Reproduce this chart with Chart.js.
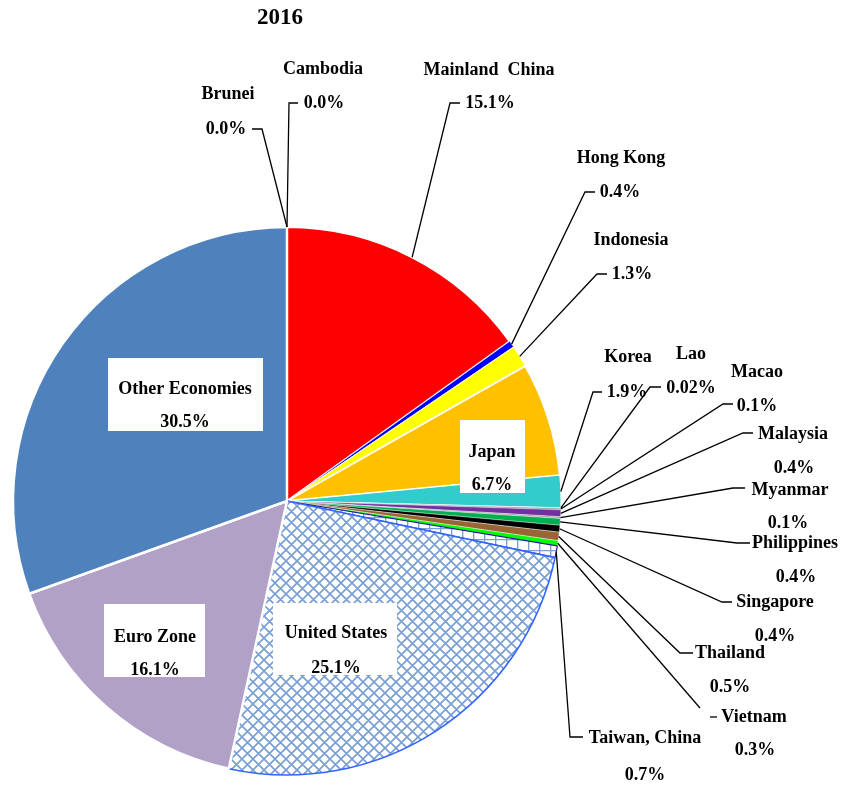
<!DOCTYPE html>
<html><head><meta charset="utf-8">
<script src="https://cdn.jsdelivr.net/npm/chart.js@4/dist/chart.umd.min.js"></script>
<style>html,body{margin:0;padding:0;background:#fff;}canvas{display:block}</style>
</head><body>
<canvas id="c" width="842" height="785"></canvas>
<script>
// ---- data ----
const chartTitle = '2016';
const categories = ['Mainland China','Hong Kong','Indonesia','Japan','Korea','Lao','Macao','Malaysia','Myanmar','Philippines','Singapore','Thailand','Vietnam','Taiwan, China','United States','Euro Zone','Other Economies','Brunei','Cambodia'];
const shares = [15.1,0.4,1.3,6.7,1.9,0.02,0.1,0.4,0.1,0.4,0.4,0.5,0.3,0.7,25.1,16.1,30.5,0.0,0.0];

// ---- styles ----
const sliceColors = ['#FF0000','#0000FF','#FFFF00','#FFC000','#33CCCC','#BFBFBF','#8FA0A0','#7030A0','#A0A0A0','#00B050','#000000','#996633','#00FF00','PATTERN_GRID','PATTERN_DIAMOND','#B2A1C7','#4F81BD','#F2DCDB','#FFFFFF'];
const sliceBorders = ['#FFFFFF','#FFFFFF','#FFFFFF','#FFFFFF','#FFFFFF','#FFFFFF','#FFFFFF','#FFFFFF','#FFFFFF','#FFFFFF','#FFFFFF','#FFFFFF','#FFFFFF','#1A1A8C','#3366FF','#FFFFFF','#FFFFFF','#FFFFFF','#FFFFFF'];
const sliceBorderWidths = [2,0.6,1,2,1,0.3,0.3,0.4,0.3,0.4,0.4,0.4,0.4,1.2,1.6,2.5,2.5,1,1];

// label layout (annotation positions, not data)
const outsideLabels = {
  'Brunei':        {name:[228,94],  value:[226,129], elbow:[262,129], end:252},
  'Cambodia':      {name:[323,69],  value:[324,103], elbow:[289,103], end:298},
  'Mainland China':{name:[489,70],  value:[490,103], elbow:[450,103], end:460, text:'Mainland  China'},
  'Hong Kong':     {name:[621,158], value:[620,192], elbow:[585,192], end:595},
  'Indonesia':     {name:[631,240], value:[632,274], elbow:[597,274], end:607},
  'Korea':         {name:[628,357], value:[627,392], elbow:[593,392], end:602},
  'Lao':           {name:[691,354], value:[691,388], elbow:[650,387], end:661},
  'Macao':         {name:[757,372], value:[757,406], elbow:[723,404], end:733},
  'Malaysia':      {name:[793,434], value:[794,468], elbow:[743,433], end:753},
  'Myanmar':       {name:[790,490], value:[788,523], elbow:[733,488], end:745},
  'Philippines':   {name:[795,543], value:[796,577], elbow:[737,543], end:750},
  'Singapore':     {name:[775,602], value:[775,636], elbow:[722,602], end:732},
  'Thailand':      {name:[730,653], value:[730,687], elbow:[680,653], end:693},
  'Vietnam':       {name:[754,717], value:[755,750], elbow:[700,708], end:700, dash:[710,717,717]},
  'Taiwan, China': {name:[645,738], value:[645,775], elbow:[570,737], end:583}
};
const insideLabels = {
  'Japan':           {box:[460,420,525,493], name:[492,452], value:[492,485]},
  'United States':   {box:[273,603,397,675], name:[336,633], value:[336,668]},
  'Euro Zone':       {box:[104,604,205,677], name:[155,637], value:[155,670]},
  'Other Economies': {box:[108,358,263,431], name:[185,389], value:[185,422]}
};

function fmt(v){ return (v > 0 && v < 0.1) ? v.toFixed(2) + '%' : v.toFixed(1) + '%'; }

function makePattern(kind){
  const p = 11;
  const c = document.createElement('canvas');
  c.width = p; c.height = p;
  const g = c.getContext('2d');
  g.fillStyle = '#FFFFFF'; g.fillRect(0,0,p,p);
  g.strokeStyle = '#7A9FD4'; g.lineWidth = 1.7;
  g.beginPath();
  if (kind === 'diamond') {
    for (let k = -1; k <= 1; k++) {
      g.moveTo(k*p, 0); g.lineTo(k*p + p, p);
      g.moveTo(k*p + p, 0); g.lineTo(k*p, p);
    }
  } else {
    g.moveTo(0, 0.5); g.lineTo(p, 0.5);
    g.moveTo(0.5, 0); g.lineTo(0.5, p);
  }
  g.stroke();
  return document.getElementById('c').getContext('2d').createPattern(c, 'repeat');
}
const fills = sliceColors.map(c => c === 'PATTERN_GRID' ? makePattern('grid') : c === 'PATTERN_DIAMOND' ? makePattern('diamond') : c);

const FONT = 'bold 18px "Liberation Serif", "Times New Roman", serif';

const labelPlugin = {
  id: 'labels',
  afterDraw(chart){
    const ctx = chart.ctx;
    const meta = chart.getDatasetMeta(0);
    ctx.save();
    ctx.fillStyle = '#000';
    ctx.textAlign = 'center'; ctx.textBaseline = 'middle';
    ctx.font = 'bold 23px "Liberation Serif", "Times New Roman", serif';
    ctx.fillText(chartTitle, 280, 18);
    ctx.font = FONT;
    categories.forEach((name, i) => {
      const arc = meta.data[i];
      const val = fmt(shares[i]);
      const o = outsideLabels[name];
      if (o) {
        const mid = (arc.startAngle + arc.endAngle) / 2;
        const sx = arc.x + Math.cos(mid) * arc.outerRadius;
        const sy = arc.y + Math.sin(mid) * arc.outerRadius;
        ctx.strokeStyle = '#000'; ctx.lineWidth = 1.3;
        ctx.beginPath();
        ctx.moveTo(sx, sy);
        ctx.lineTo(o.elbow[0], o.elbow[1]);
        ctx.lineTo(o.end, o.elbow[1]);
        ctx.stroke();
        if (o.dash) {
          ctx.beginPath();
          ctx.moveTo(o.dash[0], o.dash[2]); ctx.lineTo(o.dash[1], o.dash[2]);
          ctx.stroke();
        }
        ctx.fillStyle = '#000';
        ctx.fillText(o.text || name, o.name[0], o.name[1]);
        ctx.fillText(val, o.value[0], o.value[1]);
      }
      const ins = insideLabels[name];
      if (ins) {
        const b = ins.box;
        ctx.fillStyle = '#FFFFFF';
        ctx.fillRect(b[0], b[1], b[2]-b[0], b[3]-b[1]);
        ctx.save();
        ctx.beginPath(); ctx.rect(b[0], b[1], b[2]-b[0], b[3]-b[1]); ctx.clip();
        ctx.fillStyle = '#000';
        ctx.fillText(name, ins.name[0], ins.name[1]);
        ctx.fillText(val, ins.value[0], ins.value[1]);
        ctx.restore();
      }
    });
    ctx.restore();
  }
};

new Chart(document.getElementById('c'), {
  type: 'pie',
  data: {
    labels: categories,
    datasets: [{
      data: shares,
      backgroundColor: fills,
      borderColor: sliceBorders,
      borderWidth: sliceBorderWidths
    }]
  },
  options: {
    responsive: false,
    animation: false,
    radius: 274,
    layout: { padding: { left: 12, right: 280, top: 226, bottom: 9 } },
    plugins: { legend: { display: false }, tooltip: { enabled: false }, title: { display: false } }
  },
  plugins: [labelPlugin]
});
</script>
</body></html>
